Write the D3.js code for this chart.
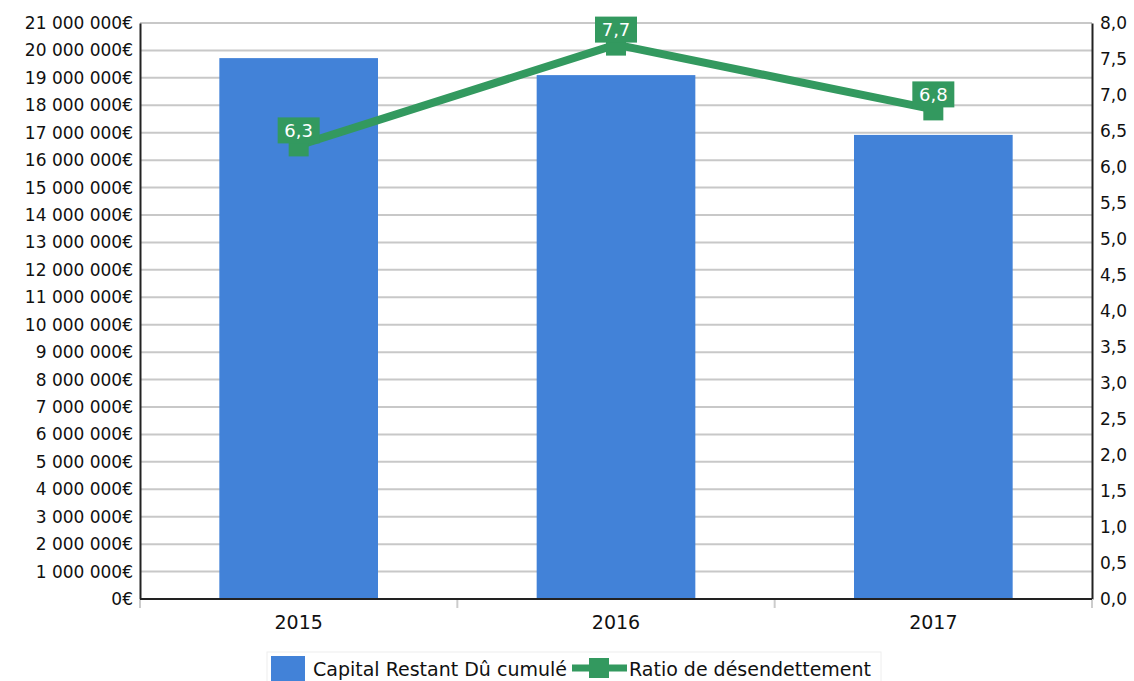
<!DOCTYPE html>
<html>
<head>
<meta charset="utf-8">
<script src="https://cdn.jsdelivr.net/npm/d3@7"></script>
<style>
  html, body { margin: 0; padding: 0; background: #fff; }
  svg { display: block; font-family: "DejaVu Sans", sans-serif; }
</style>
</head>
<body>
<svg id="chart" width="1134" height="681"></svg>
<script>
// Capital restant dû cumulé (bars, left axis) and ratio de désendettement (line, right axis)
const years = ["2015", "2016", "2017"];
const capital = [19720000, 19100000, 16920000];
const ratio = [6.3, 7.7, 6.8];
const capitalTicks = d3.range(0, 21000001, 1000000);
const ratioTicks = d3.range(0, 8.01, 0.5);

const barColor = "#4282d8";
const lineColor = "#33995f";

const svg = d3.select("#chart");
const margin = { left: 140, right: 1092, top: 23, bottom: 599 };

const x = d3.scaleBand().domain(years).range([margin.left, margin.right]).paddingInner(0.5).paddingOuter(0.25);
const yL = d3.scaleLinear().domain([0, 21000000]).range([margin.bottom, margin.top]);
const yR = d3.scaleLinear().domain([0, 8]).range([margin.bottom, margin.top]);

const fmtMoney = d => d3.format(",")(d).replace(/,/g, " ") + "€";
const fmtRatio = d => d3.format(".1f")(d).replace(".", ",");

// grid lines
svg.append("g").selectAll("line").data(capitalTicks.slice(1)).join("line")
  .attr("x1", margin.left).attr("x2", margin.right)
  .attr("y1", d => yL(d)).attr("y2", d => yL(d))
  .attr("stroke", "#c8c8c8").attr("stroke-width", 2);

// bars
svg.append("g").selectAll("rect").data(years).join("rect")
  .attr("x", d => x(d)).attr("width", x.bandwidth())
  .attr("y", (d, i) => yL(capital[i]))
  .attr("height", (d, i) => yL(0) - yL(capital[i]))
  .attr("fill", barColor);

// left axis
const axL = svg.append("g").attr("transform", `translate(${margin.left},0)`)
  .call(d3.axisLeft(yL).tickValues(capitalTicks).tickFormat(fmtMoney).tickSize(0).tickPadding(7));
axL.select(".domain").attr("stroke", "#222").attr("stroke-width", 2);
axL.selectAll("text").attr("font-size", 17).attr("fill", "#111").attr("font-family", "DejaVu Sans");

// right axis
const axR = svg.append("g").attr("transform", `translate(${margin.right},0)`)
  .call(d3.axisRight(yR).tickValues(ratioTicks).tickFormat(fmtRatio).tickSize(0).tickPadding(8));
axR.select(".domain").attr("stroke", "#222").attr("stroke-width", 2);
axR.selectAll("text").attr("font-size", 17).attr("fill", "#111").attr("font-family", "DejaVu Sans");

// bottom axis
const bounds = [margin.left, ...years.slice(1).map(d => x(d) - x.step() * x.paddingInner() / 2), margin.right];
svg.append("g").selectAll("line").data(bounds).join("line")
  .attr("x1", d => d).attr("x2", d => d)
  .attr("y1", margin.bottom).attr("y2", margin.bottom + 9)
  .attr("stroke", "#ccc").attr("stroke-width", 2);
svg.append("line")
  .attr("x1", margin.left).attr("x2", margin.right)
  .attr("y1", margin.bottom).attr("y2", margin.bottom)
  .attr("stroke", "#222").attr("stroke-width", 2);
svg.append("g").selectAll("text").data(years).join("text")
  .attr("x", d => x(d) + x.bandwidth() / 2).attr("y", 629)
  .attr("text-anchor", "middle").attr("font-size", 19).attr("fill", "#111")
  .text(d => d);

// ratio line
const cx = d => x(d) + x.bandwidth() / 2;
svg.append("path")
  .datum(years)
  .attr("d", d3.line().x(d => cx(d)).y((d, i) => yR(ratio[i])))
  .attr("fill", "none").attr("stroke", lineColor).attr("stroke-width", 8)
  .attr("stroke-linejoin", "round");

// markers
svg.append("g").selectAll("rect").data(years).join("rect")
  .attr("x", d => cx(d) - 10).attr("y", (d, i) => yR(ratio[i]) - 10)
  .attr("width", 20).attr("height", 21)
  .attr("fill", lineColor);

// value labels
const lbl = svg.append("g").selectAll("g").data(years).join("g")
  .attr("transform", (d, i) => `translate(${cx(d)},${yR(ratio[i]) - 15})`);
lbl.append("rect")
  .attr("x", -21).attr("y", -13).attr("width", 42).attr("height", 26)
  .attr("fill", lineColor);
lbl.append("text")
  .attr("text-anchor", "middle").attr("dy", "0.35em")
  .attr("font-size", 18).attr("fill", "#fff")
  .text((d, i) => fmtRatio(ratio[i]));

// legend
const lg = svg.append("g");
lg.append("rect").attr("x", 267).attr("y", 652).attr("width", 614).attr("height", 34)
  .attr("fill", "#fff").attr("stroke", "#eee").attr("stroke-width", 1);
lg.append("rect").attr("x", 271).attr("y", 656).attr("width", 34).attr("height", 25).attr("fill", barColor);
lg.append("text").attr("x", 313).attr("y", 676).attr("font-size", 19).attr("fill", "#111")
  .text("Capital Restant Dû cumulé");
lg.append("line").attr("x1", 572).attr("x2", 627).attr("y1", 668).attr("y2", 668)
  .attr("stroke", lineColor).attr("stroke-width", 7);
lg.append("rect").attr("x", 589).attr("y", 658).attr("width", 20).attr("height", 20).attr("fill", lineColor);
lg.append("text").attr("x", 629).attr("y", 676).attr("font-size", 19).attr("fill", "#111")
  .text("Ratio de désendettement");
</script>
</body>
</html>
